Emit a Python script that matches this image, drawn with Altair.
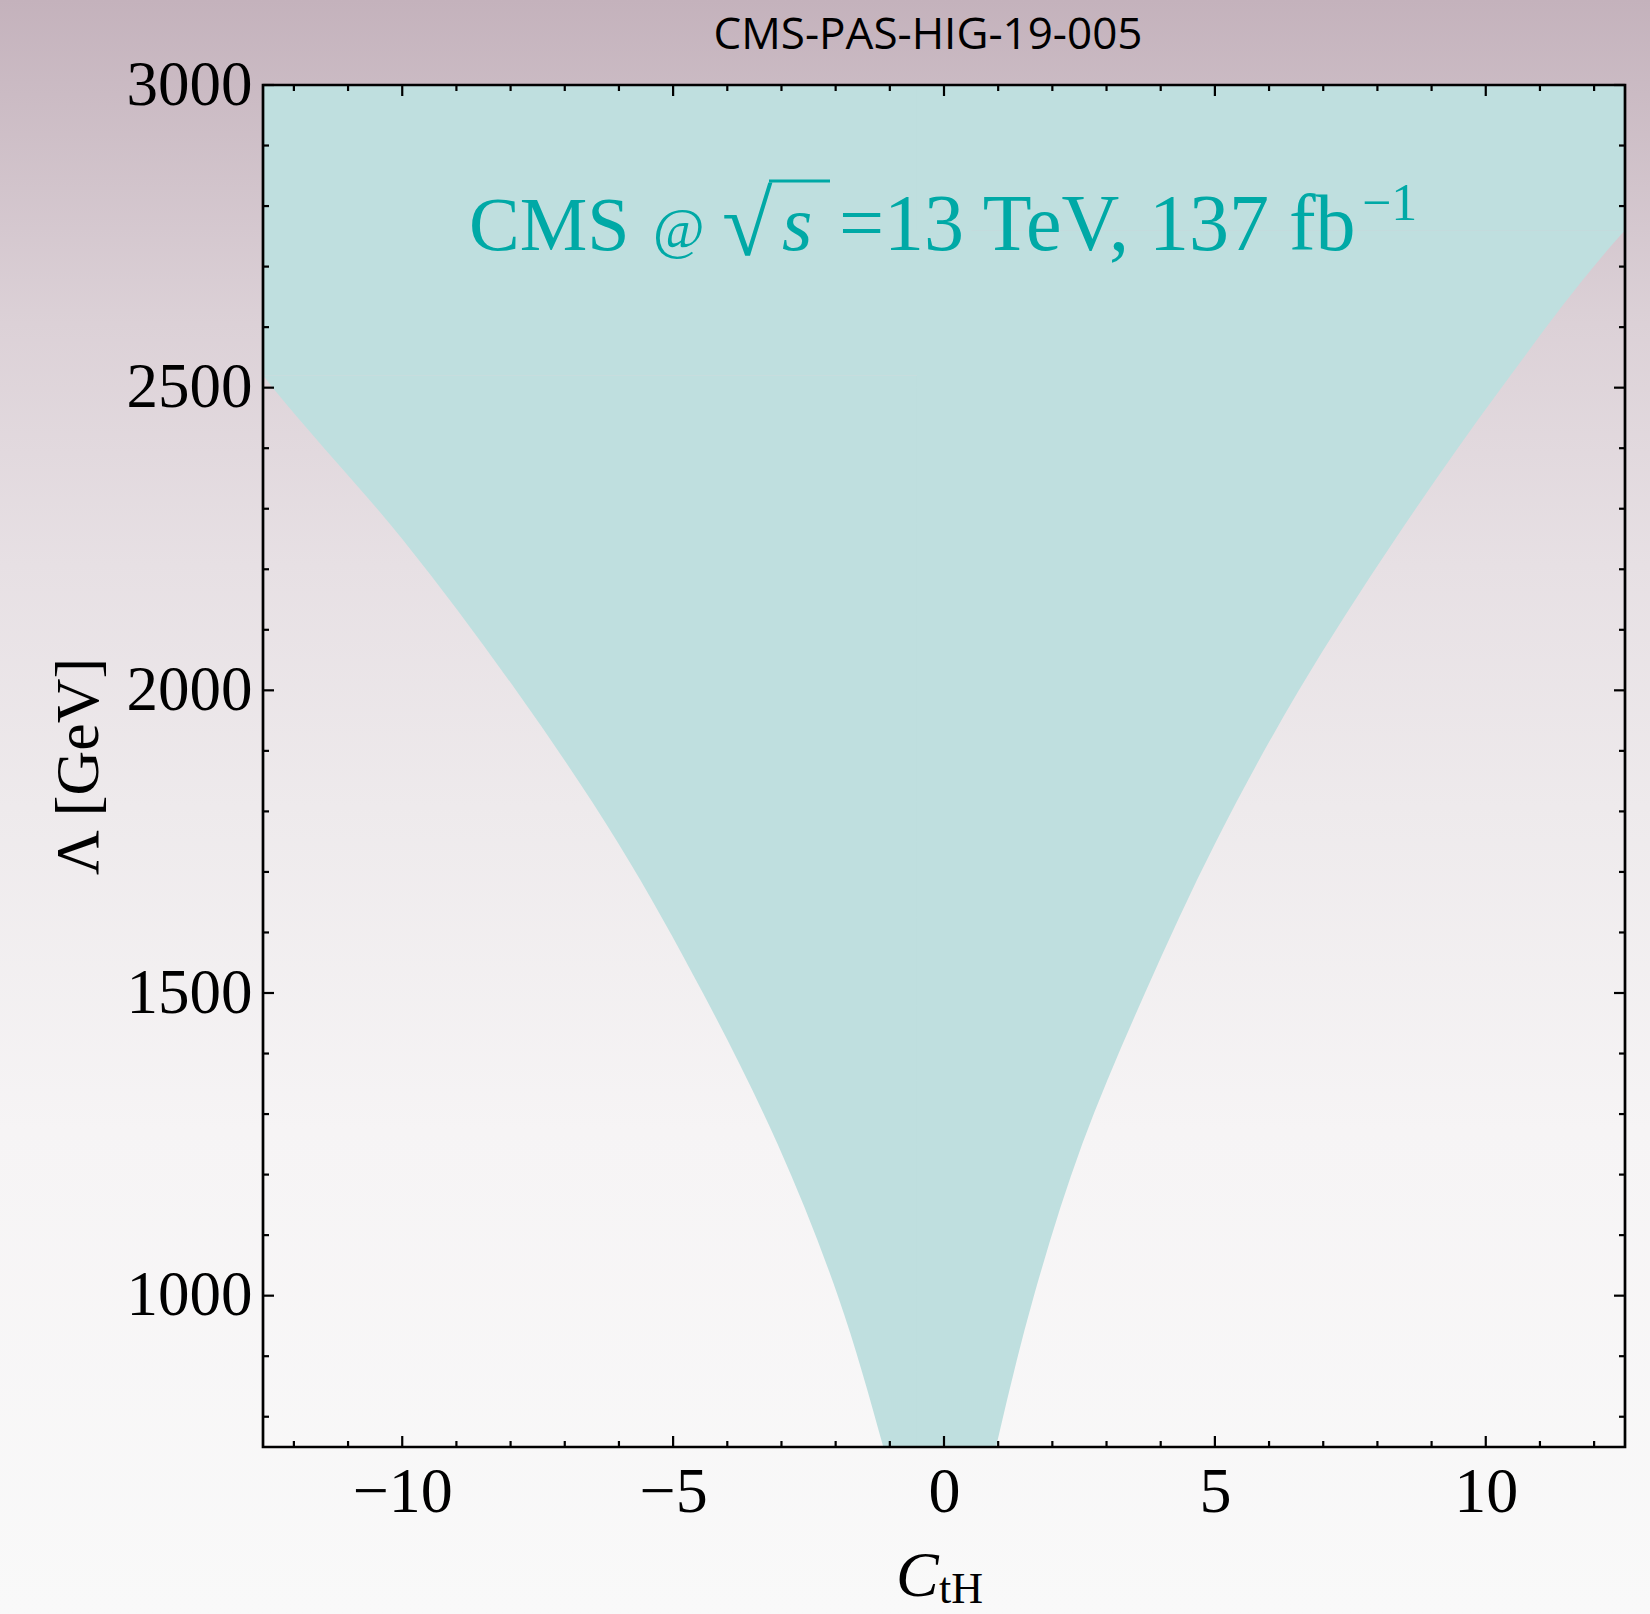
import altair as alt
import pandas as pd

# ---------------- data ----------------
# Left boundary of the allowed band (C_tH) vs Lambda [GeV]; it leaves the frame at ~2520 GeV
lam_left = [750, 1000, 1250, 1500, 1750, 2000, 2250, 2500, 2520]
c_left = [-1.12, -1.96, -3.07, -4.45, -6.03, -7.90, -10.00, -12.39, -12.57]
# Right boundary; it leaves the frame at ~2760 GeV
lam_right = [750, 1000, 1250, 1500, 1750, 2000, 2250, 2500, 2750, 2760]
c_right = [0.96, 1.66, 2.55, 3.71, 5.02, 6.55, 8.33, 10.29, 12.47, 12.57]
# Above the exit points the band fills the frame up to the top
cap_x1 = [-12.57, -0.5]
cap_x2 = [0.5, 12.57]
cap_y1 = [2520, 2760]
cap_y2 = [3000, 3000]

x_major = [-10, -5, 0, 5, 10]
x_minor = [-12, -11, -9, -8, -7, -6, -4, -3, -2, -1, 1, 2, 3, 4, 6, 7, 8, 9, 11, 12]
y_major = [1000, 1500, 2000, 2500, 3000]
y_minor = [800, 900, 1100, 1200, 1300, 1400, 1600, 1700, 1800, 1900,
           2100, 2200, 2300, 2400, 2600, 2700, 2800, 2900]

X_DOMAIN = [-12.57, 12.57]
Y_DOMAIN = [750, 3000]

# ---------------- layout constants ----------------
W, H = 1362, 1362
LEFT, TOP = 263, 85
FULL_W, FULL_H = 1650, 1614
SERIF = "Liberation Serif"
TEAL = "#00a9a6"
FILL = "#bfdfdf"

xs = alt.Scale(domain=X_DOMAIN, nice=False, zero=False)
ys = alt.Scale(domain=Y_DOMAIN, nice=False, zero=False)

one = alt.Data(values=[{}])

grad = alt.LinearGradient(
    gradient="linear",
    stops=[
        alt.GradientStop(offset=0.0, color="#c4b2bc"),
        alt.GradientStop(offset=0.2, color="#dcd1d7"),
        alt.GradientStop(offset=0.35, color="#e7e0e4"),
        alt.GradientStop(offset=0.5, color="#eeeaec"),
        alt.GradientStop(offset=0.7, color="#f6f4f5"),
        alt.GradientStop(offset=1.0, color="#f9f9f9"),
    ],
    x1=0, x2=0, y1=0, y2=1,
)

bg = alt.Chart(one).mark_rect(color=grad).encode(
    x=alt.value(-LEFT), x2=alt.value(FULL_W - LEFT),
    y=alt.value(-TOP), y2=alt.value(FULL_H - TOP),
)

x_axis = alt.Axis(values=x_major, format="d", ticks=False, tickSize=0, domain=False,
                  grid=False, labelFont=SERIF, labelFontSize=64, labelColor="black",
                  labelPadding=13, labelFlush=False, title=None, zindex=2)
y_axis = alt.Axis(values=y_major, format="d", ticks=False, tickSize=0, domain=False,
                  grid=False, labelFont=SERIF, labelFontSize=63, labelColor="black",
                  labelPadding=11, labelFlush=False,
                  title="Λ [GeV]", titleFont=SERIF, titleFontSize=62,
                  titleFontWeight="normal", titleColor="black", titleAngle=270,
                  titleX=-166, titleY=H / 2, titleAlign="center",
                  titleBaseline="alphabetic", zindex=2)


def X(field):
    return alt.X(field, scale=xs, axis=x_axis)


def Y(field):
    return alt.Y(field, scale=ys, axis=y_axis)


df_l = pd.DataFrame({"lam": lam_left, "c": c_left})
df_r = pd.DataFrame({"lam": lam_right, "c": c_right})
df_cap = pd.DataFrame({"x1": cap_x1, "x2": cap_x2, "y1": cap_y1, "y2": cap_y2})

area_l = alt.Chart(df_l).mark_area(color=FILL, opacity=1, interpolate="monotone",
                                   clip=True).encode(
    y=Y("lam:Q"), x=X("c:Q"), x2=alt.datum(0.5),
)
area_r = alt.Chart(df_r).mark_area(color=FILL, opacity=1, interpolate="monotone",
                                   clip=True).encode(
    y=Y("lam:Q"), x=X("c:Q"), x2=alt.datum(-0.5),
)
caps = alt.Chart(df_cap).mark_rect(color=FILL, opacity=1, clip=True).encode(
    x=X("x1:Q"), x2="x2:Q", y=Y("y1:Q"), y2="y2:Q",
)

frame = alt.Chart(one).mark_rect(filled=False, stroke="black", strokeWidth=2.7).encode(
    x=alt.value(0), x2=alt.value(W), y=alt.value(0), y2=alt.value(H)
)


def xticks(vals, length, top):
    d = pd.DataFrame({"v": vals})
    y0, y1 = (0, length) if top else (H, H - length)
    return alt.Chart(d).mark_rule(color="black", strokeWidth=2.2).encode(
        x=X("v:Q"), y=alt.value(y0), y2=alt.value(y1))


def yticks(vals, length, right):
    d = pd.DataFrame({"v": vals})
    x0, x1 = (W, W - length) if right else (0, length)
    return alt.Chart(d).mark_rule(color="black", strokeWidth=2.2).encode(
        y=Y("v:Q"), x=alt.value(x0), x2=alt.value(x1))


ticks = [
    xticks(x_major, 11, False), xticks(x_major, 11, True),
    xticks(x_minor, 6, False), xticks(x_minor, 6, True),
    yticks(y_major, 11, False), yticks(y_major, 11, True),
    yticks(y_minor, 6, False), yticks(y_minor, 6, True),
]


def label(text, x, y, size, color="black", font=SERIF, style="normal", align="left"):
    return alt.Chart(one).mark_text(
        text=text, font=font, fontSize=size, color=color, fontStyle=style,
        align=align, baseline="alphabetic",
    ).encode(x=alt.value(x), y=alt.value(y))


texts = [
    # title
    label("CMS-PAS-HIG-19-005", 665, -36, 44, font="Open Sans", align="center"),
    # in-plot annotation
    label("CMS", 206, 165, 76, TEAL),
    label("@", 390, 163, 56, TEAL),
    label("√", 459, 170, 92, TEAL),
    label("s", 519, 165, 78, TEAL, style="italic"),
    label("=13 TeV, 137 fb", 576, 165, 80, TEAL),
    label("−1", 1099, 135, 52, TEAL),
    # x axis title C_tH
    label("C", 633, 1511, 64, style="italic"),
    label("tH", 676, 1518, 44),
]

overline = alt.Chart(one).mark_rule(color=TEAL, strokeWidth=3).encode(
    x=alt.value(506), x2=alt.value(567), y=alt.value(96)
)

chart = alt.layer(bg, area_l, area_r, caps, frame, *ticks, overline, *texts).properties(
    width=W, height=H, padding=0, background="#f9f9f9"
).configure_view(strokeWidth=0)

chart.save("out.html", embed_options={"renderer": "svg", "actions": False})
